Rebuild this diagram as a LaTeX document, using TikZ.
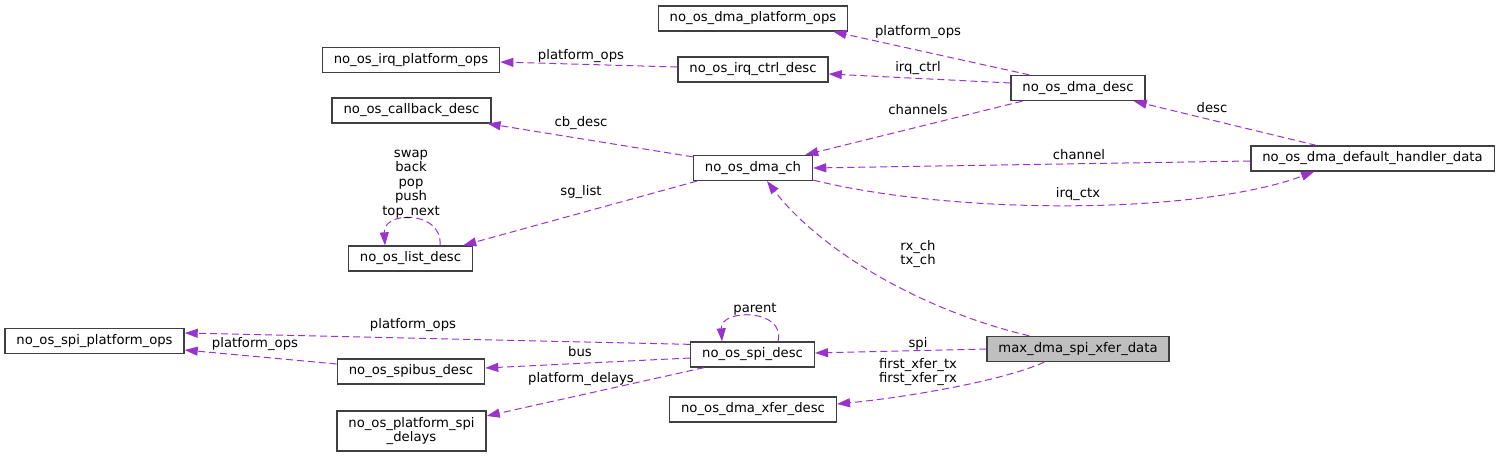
\documentclass[tikz,border=0pt]{standalone}
\usepackage{fontspec}
\setmainfont{DejaVu Sans}
\usetikzlibrary{arrows.meta}
\definecolor{edgepurple}{HTML}{9A32CD}
\definecolor{boxgray}{HTML}{404040}
\definecolor{mainfill}{HTML}{BFBFBF}
\begin{document}
\begin{tikzpicture}[x=1pt, y=1pt,
    font=\fontsize{13.2}{14.5}\selectfont,
    cls/.style={rectangle, draw=boxgray, line width=1.3pt, fill=white,
      inner xsep=11.5pt, inner ysep=4pt, minimum height=25pt, align=center},
    ref/.style={edgepurple, line width=1pt, dash pattern=on 7pt off 4pt,
      -{Triangle[length=13pt, width=9pt]}},
    lbl/.style={inner sep=0pt, align=center}]
  \useasboundingbox (0,0) rectangle (1499,457);
  \node[cls] (dmaplat) at (753,438.5) {no\_os\_dma\_platform\_ops};
  \node[cls] (irqplat) at (411,397) {no\_os\_irq\_platform\_ops};
  \node[cls] (irqctrl) at (753,387.5) {no\_os\_irq\_ctrl\_desc};
  \node[cls] (cbdesc) at (411.5,346.5) {no\_os\_callback\_desc};
  \node[cls] (dmadesc) at (1078,369) {no\_os\_dma\_desc};
  \node[cls] (dmach) at (753,289) {no\_os\_dma\_ch};
  \node[cls] (handler) at (1372.5,298.5) {no\_os\_dma\_default\_handler\_data};
  \node[cls] (listdesc) at (410.5,198.5) {no\_os\_list\_desc};
  \node[cls] (spiplat) at (94.5,116) {no\_os\_spi\_platform\_ops};
  \node[cls] (spibus) at (411,85.5) {no\_os\_spibus\_desc};
  \node[cls, minimum height=40pt] (spidelays) at (411.5,26) {no\_os\_platform\_spi\\\_delays};
  \node[cls] (spidesc) at (752.5,102.5) {no\_os\_spi\_desc};
  \node[cls, fill=mainfill] (xferdata) at (1078,108) {max\_dma\_spi\_xfer\_data};
  \node[cls] (xferdesc) at (753,47.5) {no\_os\_dma\_xfer\_desc};

  \draw[ref] ([xshift=19pt]dmadesc.north west) -- ([xshift=-15pt]dmaplat.south east);
  \draw[ref] ([yshift=5pt]dmadesc.west) -- ([yshift=-4.5pt]irqctrl.east);
  \draw[ref] ([xshift=12pt]dmadesc.south west) -- ([xshift=-8pt]dmach.north east);
  \draw[ref] ([yshift=2.5pt]irqctrl.west) -- ([yshift=-2pt]irqplat.east);
  \draw[ref] ([yshift=-2pt]dmach.north west) -- ([xshift=-4pt]cbdesc.south east);
  \draw[ref] ([xshift=4pt]dmach.south west) -- ([xshift=-10pt]listdesc.north east);
  \draw[ref] ([xshift=29.5pt]listdesc.north) .. controls +(3,35) and +(-2,35) .. ([xshift=-25.5pt]listdesc.north);
  \draw[ref] ([xshift=66pt]handler.north west) -- ([xshift=-12pt]dmadesc.south east);
  \draw[ref] ([yshift=-2.5pt]handler.west) -- (dmach.east);
  \draw[ref] ([yshift=1pt]dmach.south east) .. controls (960,241) and (1200,243) .. ([xshift=64pt]handler.south west);
  \draw[ref] ([xshift=43pt]xferdata.north west) .. controls (920,147) and (820,207) .. ([xshift=14pt]dmach.south);
  \draw[ref] (xferdata.west) -- ([yshift=1.5pt]spidesc.east);
  \draw[ref] ([xshift=58pt]xferdata.south west) .. controls (1000,75) and (900,59) .. ([yshift=5.5pt]xferdesc.east);
  \draw[ref] ([yshift=-3pt]spidesc.north west) -- ([yshift=8pt]spiplat.east);
  \draw[ref] ([yshift=-3.5pt]spidesc.west) -- ([yshift=3.5pt]spibus.east);
  \draw[ref] ([xshift=14pt]spidesc.south west) -- ([yshift=15pt]spidelays.east);
  \draw[ref] ([yshift=7.5pt]spibus.west) -- ([yshift=-9pt]spiplat.east);
  \draw[ref] ([xshift=25.5pt]spidesc.north) .. controls +(8,33) and +(-2,33) .. ([xshift=-30.5pt]spidesc.north);

  \node[lbl] (l-dmaplat) at (918,425) {platform\_ops};
  \node[lbl] (l-irqctrl) at (918,389) {irq\_ctrl};
  \node[lbl] (l-channels) at (918,347) {channels};
  \node[lbl] (l-irqplat) at (581,401) {platform\_ops};
  \node[lbl] (l-cbdesc) at (581,334) {cb\_desc};
  \node[lbl] (l-sglist) at (581,265) {sg\_list};
  \node[lbl] (l-listloop) at (411,273) {swap\\back\\pop\\push\\top\_next};
  \node[lbl] (l-desc) at (1212,349) {desc};
  \node[lbl] (l-channel) at (1079,302) {channel};
  \node[lbl] (l-irqctx) at (1078,263) {irq\_ctx};
  \node[lbl] (l-rxtx) at (918,203) {rx\_ch\\tx\_ch};
  \node[lbl] (l-spi) at (918,113) {spi};
  \node[lbl] (l-first) at (918,85) {first\_xfer\_tx\\first\_xfer\_rx};
  \node[lbl] (l-spiplat) at (413,132) {platform\_ops};
  \node[lbl] (l-bus) at (580,105) {bus};
  \node[lbl] (l-delays) at (581,78) {platform\_delays};
  \node[lbl] (l-spibus) at (255,113) {platform\_ops};
  \node[lbl] (l-parent) at (755,148) {parent};
\end{tikzpicture}
\end{document}
